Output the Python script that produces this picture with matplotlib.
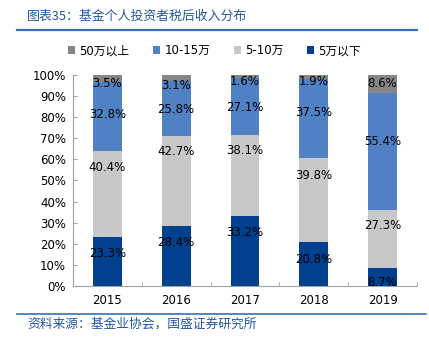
import numpy as np
import matplotlib
matplotlib.use("Agg")
import matplotlib.pyplot as plt
from matplotlib.patches import Patch
from matplotlib.lines import Line2D

plt.rcParams["font.family"] = ["DejaVu Sans", "Noto Sans CJK SC"]

# ── data ──────────────────────────────────────────────────────────────────────
years = ["2015", "2016", "2017", "2018", "2019"]
below_5 = [23.3, 28.4, 33.2, 20.8, 8.7]      # 5万以下
w5_10 = [40.4, 42.7, 38.1, 39.8, 27.3]       # 5-10万
w10_15 = [32.8, 25.8, 27.1, 37.5, 55.4]      # 10-15万
above_50 = [3.5, 3.1, 1.6, 1.9, 8.6]         # 50万以上

series_names = ["5万以下", "5-10万", "10-15万", "50万以上"]
series_vals = [below_5, w5_10, w10_15, above_50]
series_colors = ["#00408F", "#C8C8C8", "#4F81C4", "#868686"]

# label nudges (percentage points) relative to segment centre, as placed in the source chart
label_nudge = [
    [3.9, 6.3, 8.8, 2.4, -2.8],
    [12.5, 13.9, 11.8, 11.8, 6.2],
    [1.2, -0.4, -0.3, 2.9, 4.6],
    [-2.4, -3.4, -2.5, -2.4, -0.1],
]

fig = plt.figure(figsize=(4.29, 3.41), dpi=100)
ax = fig.add_axes([0.170, 0.161, 0.802, 0.620])

x = np.arange(len(years))
bottom = np.zeros(len(years))
for vals, col, nudge in zip(series_vals, series_colors, label_nudge):
    vals = np.array(vals)
    ax.bar(x, vals, bottom=bottom, width=0.42, color=col, linewidth=0, zorder=2)
    for i in range(len(years)):
        ax.text(x[i], bottom[i] + vals[i] / 2 + nudge[i], f"{vals[i]:.1f}%",
                ha="center", va="center", fontsize=8.5, color="black", zorder=3)
    bottom += vals

ax.set_xlim(-0.5, len(years) - 0.5)
ax.set_ylim(0, 100)
ax.set_yticks(np.arange(0, 101, 10))
ax.set_yticklabels([f"{v}%" for v in range(0, 101, 10)], fontsize=8.5)
ax.set_xticks(x)
ax.set_xticklabels(years, fontsize=8.5)
ax.set_xticks(np.arange(-0.5, len(years)), minor=True)
ax.tick_params(axis="x", which="major", length=0, pad=6)
ax.tick_params(axis="x", which="minor", direction="in", length=3, color="#A0A0A0")
ax.tick_params(axis="y", direction="in", length=3, color="#A0A0A0", pad=5)
for s in ["top", "right"]:
    ax.spines[s].set_visible(False)
for s in ["left", "bottom"]:
    ax.spines[s].set_color("#A0A0A0")
    ax.spines[s].set_linewidth(0.8)

# legend
order = [3, 2, 1, 0]
handles = [Patch(facecolor=series_colors[i], edgecolor="none") for i in order]
labels = [series_names[i] for i in order]
fig.legend(handles, labels, loc="center", bbox_to_anchor=(0.5, 0.851), ncol=4,
           frameon=False, fontsize=8.5, handlelength=0.6, handleheight=0.6,
           handletextpad=0.35, columnspacing=2.0)

# title, rules and source
fig.text(0.063, 0.953, "图表35：基金个人投资者税后收入分布", fontsize=9.3, color="#2457A0",
         family=["Noto Sans CJK SC"], va="center", ha="left")
fig.add_artist(Line2D([0.04, 0.972], [0.912, 0.912], color="#3A6FB7", linewidth=1.6,
                      transform=fig.transFigure))
fig.add_artist(Line2D([0.04, 0.993], [0.079, 0.079], color="#3A6FB7", linewidth=1.2,
                      transform=fig.transFigure))
fig.text(0.063, 0.050, "资料来源：基金业协会，国盛证券研究所", fontsize=9.2, color="#2457A0",
         family=["Noto Sans CJK SC"], va="center", ha="left")

fig.savefig("out.png", dpi=100, facecolor="white")
